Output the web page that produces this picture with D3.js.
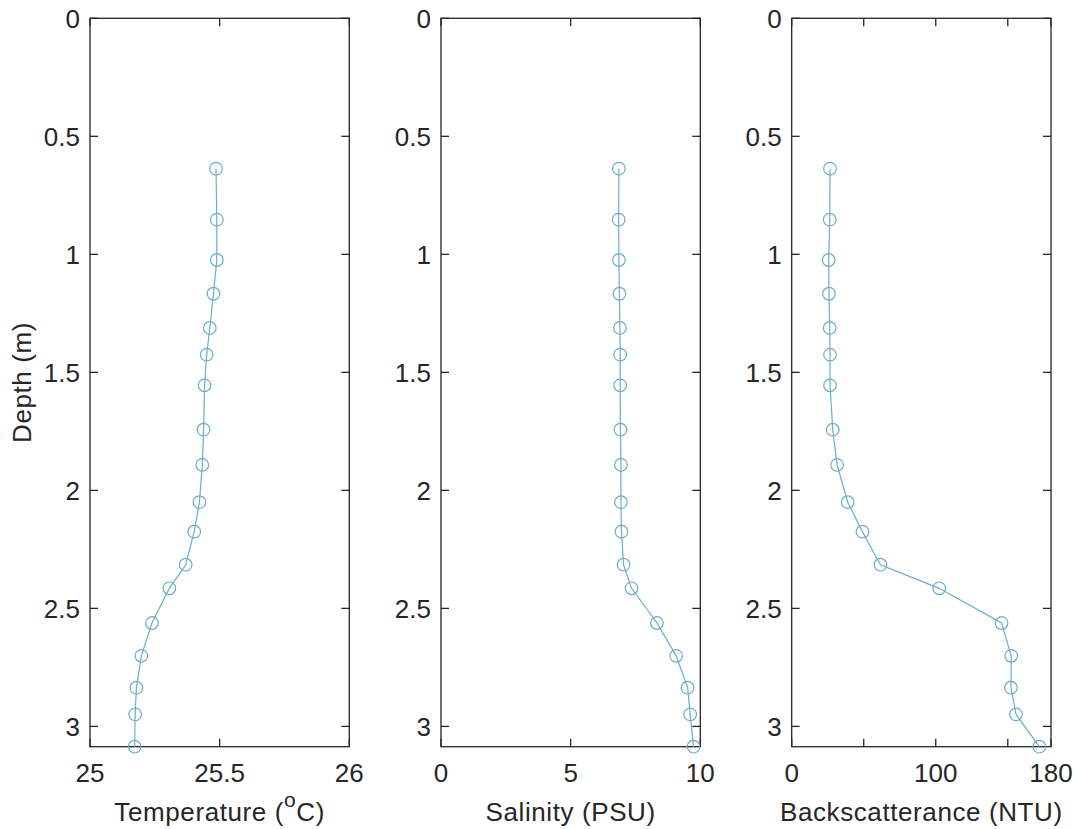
<!DOCTYPE html>
<html>
<head>
<meta charset="utf-8">
<script src="https://cdn.jsdelivr.net/npm/d3@7"></script>
<style>
    body { margin: 0; background: #fff; }
    text { font-family: "Liberation Sans", Arial, Helvetica, sans-serif; fill: #262626; }
</style>
</head>
<body>
<script>

// depth of each sample (m)
var depth = [0.637, 0.853, 1.024, 1.167, 1.312, 1.425, 1.555, 1.743, 1.892,
             2.050, 2.175, 2.315, 2.415, 2.562, 2.701, 2.836, 2.949, 3.086];

var temperature = [25.486, 25.489, 25.489, 25.476, 25.462, 25.450, 25.442, 25.438, 25.433,
                   25.422, 25.402, 25.369, 25.306, 25.239, 25.198, 25.179, 25.174, 25.172];

var salinity = [6.86, 6.85, 6.86, 6.88, 6.90, 6.91, 6.91, 6.92, 6.94,
                6.94, 6.96, 7.04, 7.35, 8.33, 9.07, 9.51, 9.61, 9.74];

var backscatter = [26.6, 26.4, 25.7, 25.9, 26.4, 26.6, 26.6, 28.5, 31.5,
                   38.9, 49.1, 61.6, 102.4, 145.7, 152.4, 152.2, 155.7, 171.9];

var depthTicks = [0, 0.5, 1, 1.5, 2, 2.5, 3];
var depthLabels = ["0", "0.5", "1", "1.5", "2", "2.5", "3"];

var tempTicks = [25, 25.5, 26];
var tempLabels = ["25", "25.5", "26"];
var salTicks = [0, 5, 10];
var salLabels = ["0", "5", "10"];
var bsTicks = [0, 50, 100, 150, 180];
var bsLabels = ["0", "", "100", "", "180"];

var width = 1074, height = 829;
var top_ = 18.3, bottom = 746.7;
var panelWidth = 259.3;
var tickLen = 8;
var fontSize = "26px";
var lineColor = "#6aaec8";
var axisColor = "#262626";

var svg = d3.select("body").append("svg")
    .attr("width", width)
    .attr("height", height);

var y = d3.scaleLinear()
    .domain([0, 3.086])
    .range([top_, bottom]);

var paneles = [
    {left: 90,    domain: [25, 26], values: temperature, ticks: tempTicks, labels: tempLabels, title: "temp"},
    {left: 441,   domain: [0, 10],  values: salinity,    ticks: salTicks,  labels: salLabels,  title: "Salinity (PSU)"},
    {left: 791.7, domain: [0, 180], values: backscatter, ticks: bsTicks,   labels: bsLabels,   title: "Backscatterance (NTU)"}
];

function dibujarPanel(p){

    var x = d3.scaleLinear()
        .domain(p.domain)
        .range([p.left, p.left + panelWidth]);

    var g = svg.append("g");

    // caja
    g.append("rect")
        .attr("x", p.left)
        .attr("y", top_)
        .attr("width", panelWidth)
        .attr("height", bottom - top_)
        .attr("fill", "none")
        .attr("stroke", axisColor)
        .attr("stroke-width", 1.3);

    // ticks eje x (abajo y arriba, hacia adentro)
    p.ticks.forEach(function(t, i){
        var xp = x(t);
        g.append("line")
            .attr("x1", xp).attr("x2", xp)
            .attr("y1", bottom).attr("y2", bottom - tickLen)
            .attr("stroke", axisColor).attr("stroke-width", 1.3);
        g.append("line")
            .attr("x1", xp).attr("x2", xp)
            .attr("y1", top_).attr("y2", top_ + tickLen)
            .attr("stroke", axisColor).attr("stroke-width", 1.3);
        if(p.labels[i] != "")
            g.append("text")
                .attr("x", xp)
                .attr("y", 781.5)
                .attr("text-anchor", "middle")
                .attr("font-size", fontSize)
                .text(p.labels[i]);
    });

    // ticks eje y
    depthTicks.forEach(function(t, i){
        var yp = y(t);
        g.append("line")
            .attr("x1", p.left).attr("x2", p.left + tickLen)
            .attr("y1", yp).attr("y2", yp)
            .attr("stroke", axisColor).attr("stroke-width", 1.3);
        g.append("line")
            .attr("x1", p.left + panelWidth).attr("x2", p.left + panelWidth - tickLen)
            .attr("y1", yp).attr("y2", yp)
            .attr("stroke", axisColor).attr("stroke-width", 1.3);
        g.append("text")
            .attr("x", p.left - 10)
            .attr("y", yp)
            .attr("dy", "0.36em")
            .attr("text-anchor", "end")
            .attr("font-size", fontSize)
            .text(depthLabels[i]);
    });

    // titulo eje x
    var titulo = g.append("text")
        .attr("x", p.left + panelWidth / 2)
        .attr("y", 820.5)
        .attr("text-anchor", "middle")
        .attr("letter-spacing", "0.6px")
        .attr("font-size", fontSize);

    if(p.title == "temp"){
        titulo.append("tspan").text("Temperature (");
        titulo.append("tspan").attr("font-size", "21px").attr("dy", "-14").text("o");
        titulo.append("tspan").attr("dy", "14").text("C)");
    }else{
        titulo.text(p.title);
    }

    var datos = depth.map(function(d, i){ return {depth: d, value: p.values[i]}; });

    var linea = d3.line()
        .x(function(d){ return x(d.value); })
        .y(function(d){ return y(d.depth); });

    g.append("path")
        .datum(datos)
        .attr("d", linea)
        .attr("fill", "none")
        .attr("stroke", lineColor)
        .attr("stroke-width", 1.2);

    g.selectAll("circle")
        .data(datos)
        .enter().append("circle")
        .attr("cx", function(d){ return x(d.value); })
        .attr("cy", function(d){ return y(d.depth); })
        .attr("r", 6.3)
        .attr("fill", "none")
        .attr("stroke", lineColor)
        .attr("stroke-width", 1.2);
}

paneles.forEach(dibujarPanel);

svg.append("text")
    .attr("transform", "translate(31," + ((top_ + bottom) / 2) + ") rotate(-90)")
    .attr("text-anchor", "middle")
    .attr("letter-spacing", "0.6px")
    .attr("font-size", fontSize)
    .text("Depth (m)");

</script>
</body>
</html>
